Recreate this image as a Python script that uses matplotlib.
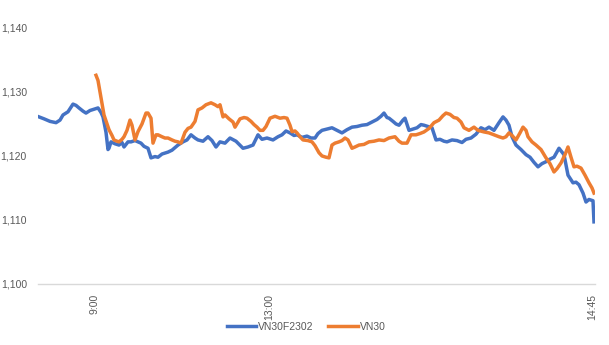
import matplotlib.pyplot as plt

# sample index (ticks) and values
blue_t = [1, 6, 12, 18, 22, 25, 30, 35, 38, 41, 45, 48, 52, 56, 60, 63, 65, 68, 70, 71, 73, 77, 81, 84,
          86, 90, 93, 97, 103, 106, 110, 113, 117, 120, 124, 130, 134, 140, 145, 149, 153, 157, 160, 165,
          170, 174, 178, 182, 187, 192, 198, 205, 210, 215, 220, 224, 229, 235, 240, 244, 248, 252, 256,
          259, 264, 269, 273, 277, 280, 284, 289, 294, 299, 304, 309, 314, 319, 324, 329, 334, 339, 343,
          346, 349, 351, 355, 358, 361, 365, 367, 371, 375, 379, 383, 386, 390, 394, 398, 402, 406, 409,
          414, 419, 424, 428, 433, 438, 443, 447, 451, 456, 461, 465, 468, 471, 474, 478, 483, 488, 492,
          496, 500, 504, 508, 512, 516, 521, 526, 530, 535, 538, 541, 545, 548, 551, 553, 555, 556]
blue_v = [1126.1, 1125.8, 1125.4, 1125.2, 1125.6, 1126.4, 1126.9, 1128.1, 1127.9, 1127.5, 1127.0, 1126.7,
          1127.1, 1127.3, 1127.5, 1126.8, 1126.1, 1123.7, 1121.0, 1121.2, 1122.2, 1121.9, 1121.7, 1122.1,
          1121.4, 1122.2, 1122.2, 1122.4, 1122.0, 1121.5, 1121.2, 1119.7, 1119.9, 1119.8, 1120.3, 1120.6,
          1120.9, 1121.7, 1122.2, 1122.5, 1123.3, 1122.8, 1122.5, 1122.3, 1123.0, 1122.4, 1121.4, 1122.2,
          1122.0, 1122.8, 1122.3, 1121.2, 1121.4, 1121.7, 1123.3, 1122.6, 1122.8, 1122.5, 1123.0, 1123.3,
          1123.9, 1123.6, 1123.2, 1123.3, 1122.9, 1123.1, 1122.8, 1122.8, 1123.5, 1124.0, 1124.2, 1124.4,
          1124.0, 1123.6, 1124.1, 1124.5, 1124.6, 1124.8, 1124.9, 1125.3, 1125.7, 1126.2, 1126.7, 1126.0,
          1125.9, 1125.4, 1125.0, 1124.8, 1125.6, 1125.9, 1124.0, 1124.2, 1124.4, 1124.9, 1124.8, 1124.6,
          1124.4, 1122.5, 1122.6, 1122.3, 1122.2, 1122.5, 1122.4, 1122.1, 1122.6, 1122.8, 1123.4, 1124.4,
          1124.1, 1124.5, 1124.0, 1125.2, 1126.1, 1125.6, 1124.8, 1123.0, 1121.7, 1121.0, 1120.2, 1119.8,
          1119.0, 1118.3, 1118.8, 1119.1, 1119.5, 1119.8, 1121.2, 1120.2, 1117.0, 1115.8, 1115.9, 1115.5,
          1114.2, 1112.8, 1113.2, 1113.1, 1113.0, 1109.7]

orange_t = [58, 60, 63, 66, 69, 71, 74, 76, 79, 81, 84, 86, 89, 92, 94, 97, 100, 104, 108, 110, 113, 115,
            118, 120, 124, 127, 130, 134, 137, 140, 143, 147, 150, 153, 157, 160, 164, 168, 173, 177, 180,
            182, 185, 187, 191, 195, 197, 202, 206, 209, 213, 216, 219, 222, 225, 228, 232, 237, 242, 246,
            249, 252, 254, 257, 259, 262, 265, 270, 274, 277, 281, 284, 288, 291, 294, 297, 301, 304, 307,
            310, 314, 317, 321, 326, 331, 336, 341, 346, 351, 354, 357, 361, 364, 369, 373, 378, 382, 386,
            391, 396, 401, 405, 408, 412, 416, 419, 423, 426, 431, 436, 440, 446, 451, 456, 461, 465, 468,
            471, 474, 478, 482, 485, 488, 490, 494, 498, 503, 508, 512, 516, 519, 523, 527, 530, 533, 536,
            539, 543, 547, 551, 554, 556]
orange_v = [1132.6, 1131.8, 1129.1, 1126.4, 1125.0, 1124.1, 1123.2, 1122.5, 1122.3, 1122.2, 1122.6, 1123.0,
            1124.0, 1125.6, 1124.8, 1122.5, 1123.8, 1125.0, 1126.7, 1126.7, 1125.9, 1122.0, 1123.3, 1123.3,
            1123.0, 1122.8, 1122.8, 1122.5, 1122.3, 1122.2, 1122.0, 1123.7, 1124.3, 1124.5, 1125.4, 1127.2,
            1127.5, 1128.0, 1128.3, 1128.0, 1127.7, 1128.0, 1126.1, 1126.4, 1125.8, 1125.3, 1124.5, 1125.8,
            1126.0, 1125.9, 1125.4, 1124.9, 1124.5, 1124.0, 1124.0, 1124.6, 1125.9, 1126.2, 1125.9, 1126.0,
            1125.9, 1124.8, 1123.8, 1123.9, 1123.6, 1123.0, 1122.5, 1122.4, 1122.2, 1121.6, 1120.5, 1120.0,
            1119.8, 1119.7, 1121.7, 1122.0, 1122.2, 1122.4, 1122.8, 1122.5, 1121.2, 1121.4, 1121.7, 1121.8,
            1122.2, 1122.3, 1122.5, 1122.4, 1122.8, 1122.9, 1123.0, 1122.3, 1122.0, 1122.0, 1123.3, 1123.3,
            1123.5, 1123.75, 1124.3, 1125.2, 1125.6, 1126.3, 1126.7, 1126.5, 1126.0, 1125.9, 1125.3, 1124.4,
            1124.0, 1124.5, 1124.0, 1123.75, 1123.6, 1123.3, 1123.0, 1122.8, 1123.0, 1123.6, 1123.2, 1122.5,
            1123.6, 1124.5, 1124.0, 1123.0, 1122.2, 1121.7, 1121.0, 1119.7, 1118.8, 1117.5, 1118.0, 1118.9,
            1120.2, 1121.4, 1119.8, 1118.3, 1118.4, 1118.1, 1117.0, 1115.8, 1115.0, 1114.2]

tick_pos = [56, 231, 554]
tick_labels = ['9:00', '13:00', '14:45']
y_ticks = [1100, 1110, 1120, 1130, 1140]

plt.rcParams['font.family'] = ['Liberation Sans', 'DejaVu Sans']

fig = plt.figure(figsize=(6.09, 3.45), dpi=100)
ax = fig.add_axes([0.0624, 0.177, 0.9146, 0.742])

ax.plot(blue_t, blue_v, color='#4472C4', lw=2.5, label='VN30F2302', solid_joinstyle='round')
ax.plot(orange_t, orange_v, color='#ED7D31', lw=2.5, label='VN30', solid_joinstyle='round')

ax.set_xlim(0, 557)
ax.set_ylim(1100, 1140)
ax.set_yticks(y_ticks)
ax.set_yticklabels(['{:,}'.format(v) for v in y_ticks])
ax.set_xticks(tick_pos)
ax.set_xticklabels(tick_labels, rotation=90)

for s in ['top', 'right', 'left']:
    ax.spines[s].set_visible(False)
ax.spines['bottom'].set_color('#d9d9d9')
ax.spines['bottom'].set_linewidth(1)
ax.tick_params(axis='both', length=0, colors='#595959', labelsize=7.5)
ax.tick_params(axis='y', pad=8)
ax.tick_params(axis='x', pad=7)

leg = fig.legend(loc='center', bbox_to_anchor=(0.503, 0.052), ncol=2, frameon=False,
                 fontsize=7.5, handlelength=2.8, handletextpad=0.2, columnspacing=1.4)
for t in leg.get_texts():
    t.set_color('#595959')

fig.savefig('out.png', dpi=100)
